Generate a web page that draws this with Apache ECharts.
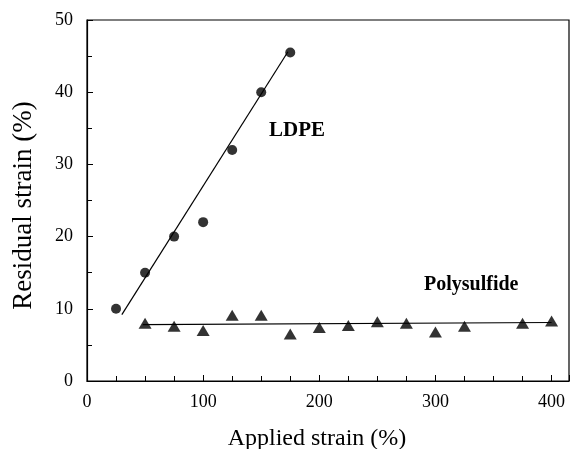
<!DOCTYPE html>
<html>
<head>
<meta charset="utf-8">
<script src="https://cdn.jsdelivr.net/npm/echarts@6/dist/echarts.min.js"></script>
<style>
  html, body { margin: 0; padding: 0; background: #fff; }
  #chart { width: 572px; height: 449px; }
</style>
</head>
<body>
<div id="chart"></div>
<script>
// LDPE residual strain
const ldpeX = [25, 50, 75, 100, 125, 150, 175]
const ldpeY = [10, 15, 20, 22, 32, 40, 45.5]
// fitted line endpoints for LDPE
const ldpeFitX = [30, 173]
const ldpeFitY = [9.2, 45.6]

// Polysulfide residual strain
const polyX = [50, 75, 100, 125, 150, 175, 200, 225, 250, 275, 300, 325, 375, 400]
const polyY = [8.0, 7.6, 7.0, 9.1, 9.1, 6.5, 7.4, 7.7, 8.2, 8.0, 6.8, 7.6, 8.0, 8.3]
const polyFitX = [48, 400]
const polyFitY = [7.8, 8.1]

const xTicks = [0, 100, 200, 300, 400]
const yTicks = [0, 10, 20, 30, 40, 50]

const font = 'Liberation Serif'
const pairs = (xs, ys) => xs.map((x, i) => [x, ys[i]])

const chart = echarts.init(document.getElementById('chart'))
chart.setOption({
  animation: false,
  backgroundColor: '#fff',
  grid: {
    left: 87, top: 20, right: 3, bottom: 68,
    outerBoundsMode: 'none', containLabel: false,
    show: true, borderColor: '#000', borderWidth: 1.2
  },
  xAxis: {
    type: 'value',
    min: 0,
    max: 415,
    interval: 100,
    name: 'Applied strain (%)',
    nameLocation: 'middle',
    nameGap: 46,
    nameTextStyle: { fontFamily: font, fontSize: 24, color: '#000', padding: [0, 22, 0, 0] },
    axisLine: { lineStyle: { color: '#000', width: 1.2 } },
    axisTick: { inside: true, length: 6, lineStyle: { color: '#000' } },
    minorTick: { show: true, splitNumber: 4, length: 5, lineStyle: { color: '#000' } },
    splitLine: { show: false },
    axisLabel: {
      fontFamily: font, fontSize: 18, color: '#000', margin: 12,
      showMaxLabel: false,
      formatter: v => xTicks.includes(v) ? String(v) : ''
    }
  },
  yAxis: {
    type: 'value',
    min: 0,
    max: 50,
    interval: 10,
    name: 'Residual strain (%)',
    nameLocation: 'middle',
    nameGap: 50,
    nameTextStyle: { fontFamily: font, fontSize: 27, color: '#000', padding: [0, 10, 0, 0] },
    axisLine: { lineStyle: { color: '#000', width: 1.2 } },
    axisTick: { inside: true, length: 6, lineStyle: { color: '#000' } },
    minorTick: { show: true, splitNumber: 2, length: 5, lineStyle: { color: '#000' } },
    splitLine: { show: false },
    axisLabel: {
      fontFamily: font, fontSize: 18, color: '#000', margin: 14,
      formatter: v => yTicks.includes(v) ? String(v) : ''
    }
  },
  series: [
    {
      name: 'LDPE fit',
      type: 'line',
      data: pairs(ldpeFitX, ldpeFitY),
      symbol: 'none',
      lineStyle: { color: '#000', width: 1.2 }
    },
    {
      name: 'Polysulfide fit',
      type: 'line',
      data: pairs(polyFitX, polyFitY),
      symbol: 'none',
      lineStyle: { color: '#000', width: 1.2 }
    },
    {
      name: 'LDPE',
      type: 'scatter',
      data: pairs(ldpeX, ldpeY),
      symbol: 'circle',
      symbolSize: 10,
      itemStyle: { color: '#000' }
    },
    {
      name: 'Polysulfide',
      type: 'scatter',
      data: pairs(polyX, polyY),
      symbol: 'triangle',
      symbolSize: [13, 11],
      itemStyle: { color: '#000' }
    }
  ],
  graphic: [
    {
      type: 'text', left: 269, top: 120,
      style: { text: 'LDPE', fontFamily: font, fontWeight: 'bold', fontSize: 21, fill: '#000' }
    },
    {
      type: 'text', left: 424, top: 275,
      style: { text: 'Polysulfide', fontFamily: font, fontWeight: 'bold', fontSize: 20, fill: '#000' }
    }
  ]
})
</script>
</body>
</html>
